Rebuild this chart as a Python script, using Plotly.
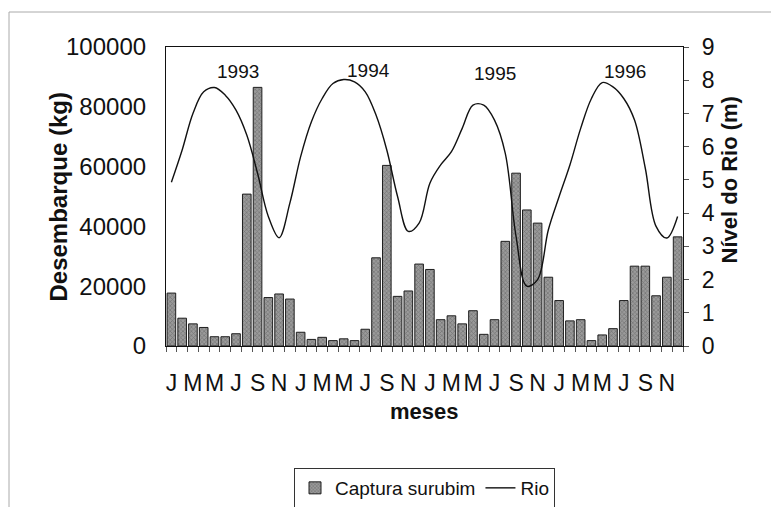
import plotly.graph_objects as go

months = ["J", "F", "M", "A", "M", "J", "J", "A", "S", "O", "N", "D"] * 4
years = ["1993", "1994", "1995", "1996"]

captura = [
    17700, 9300, 7400, 6200, 3100, 3100, 4100, 50800, 86500, 16200, 17400, 15700,
    4600, 2200, 2900, 1800, 2400, 1800, 5600, 29500, 60400, 16600, 18400, 27400,
    25600, 8800, 10100, 7400, 11800, 3900, 8800, 35000, 57800, 45500, 41100, 23000,
    15200, 8400, 8800, 1800, 3700, 5800, 15200, 26700, 26700, 16800, 23000, 36500,
]

rio = [
    4.93, 5.9, 7.0, 7.65, 7.78, 7.55, 7.1, 6.35, 5.2, 3.9, 3.26, 4.3,
    5.7, 6.75, 7.45, 7.9, 8.02, 7.95, 7.65, 6.95, 5.9, 4.5, 3.45, 3.7,
    4.9, 5.45, 5.85, 6.55, 7.25, 7.25, 6.8, 5.8, 3.3, 1.8, 2.0, 3.5,
    4.5, 5.45, 6.55, 7.45, 7.93, 7.8, 7.45, 6.8, 5.35, 3.6, 3.25, 3.9,
]

x = list(range(len(captura)))
label_idx = x[::2]
label_txt = [months[i] for i in label_idx]
boundaries = [i - 0.5 for i in range(len(captura) + 1)]

FONT = "Liberation Sans, Arial, sans-serif"

# plot-area geometry in pixels
L, R, T, B = 166, 683, 47, 346
W, H = R - L, B - T


def px(xp):
    return (xp - L) / W


def py(yp):
    return (B - yp) / H


fig = go.Figure()
fig.add_trace(go.Bar(
    x=x, y=captura, name="Captura surubim", xaxis="x", yaxis="y",
    marker=dict(
        color="#8c8c8c",
        line=dict(color="#1e1e1e", width=1),
        pattern=dict(shape="x", fgcolor="#4e4e4e", bgcolor="#9a9a9a", size=3, solidity=0.4),
    ),
))
fig.add_trace(go.Scatter(
    x=x, y=rio, name="Rio", xaxis="x2", yaxis="y2", mode="lines",
    line=dict(color="#111111", width=1.4, shape="spline", smoothing=1.0),
))

year_pos = [(6.2, 91900), (18.3, 92000), (30.0, 91300), (42.1, 91800)]
annotations = []
for yr, (ax, ay) in zip(years, year_pos):
    annotations.append(dict(x=ax, y=ay, xref="x", yref="y", text=yr, showarrow=False,
                            font=dict(family=FONT, size=19, color="#111")))

annotations += [
    dict(x=px(42), y=py(197), xref="paper", yref="paper", text="<b>Desembarque (kg)</b>",
         textangle=-90, showarrow=False, font=dict(family=FONT, size=24, color="#111")),
    dict(x=px(743), y=py(180), xref="paper", yref="paper", text="<b>Nível do Rio (m)</b>",
         textangle=-90, showarrow=False, font=dict(family=FONT, size=22, color="#111")),
    dict(x=0.5, y=py(426), xref="paper", yref="paper", text="<b>meses</b>",
         showarrow=False, font=dict(family=FONT, size=22, color="#111")),
]

fig.update_layout(
    width=771, height=507,
    margin=dict(l=L, r=771 - R, t=T, b=507 - B, autoexpand=False),
    paper_bgcolor="white", plot_bgcolor="white",
    bargap=0.2,
    showlegend=True,
    legend=dict(
        orientation="h", x=0.5, xanchor="center", y=py(468), yanchor="top",
        bordercolor="#333", borderwidth=1, bgcolor="white",
        font=dict(family=FONT, size=19, color="#111"),
    ),
    font=dict(family=FONT, color="#111"),
    annotations=annotations,
    xaxis=dict(
        range=[-0.5, 47.5], tickmode="array", tickvals=label_idx, ticktext=label_txt,
        ticks="", showgrid=False, zeroline=False,
        showline=True, linecolor="#111", linewidth=1.2, mirror=True,
        tickfont=dict(family=FONT, size=23, color="#111"),
        ticklabelstandoff=16,
    ),
    xaxis2=dict(
        range=[-0.5, 47.5], overlaying="x", anchor="y", side="bottom",
        tickmode="array", tickvals=boundaries, showticklabels=False,
        ticks="outside", ticklen=5, tickcolor="#555", showgrid=False, zeroline=False,
        showline=False,
    ),
    yaxis=dict(
        range=[0, 100000], tickmode="array", tickvals=[0, 20000, 40000, 60000, 80000, 100000],
        ticktext=["0", "20000", "40000", "60000", "80000", "100000"],
        ticks="", showgrid=False, zeroline=False,
        showline=True, linecolor="#111", linewidth=1.2,
        tickfont=dict(family=FONT, size=24, color="#111"),
        ticklabelstandoff=14,
    ),
    yaxis2=dict(
        range=[0, 9], overlaying="y", side="right", anchor="x", dtick=1,
        ticks="outside", ticklen=5, tickcolor="#555", showgrid=False, zeroline=False,
        showline=True, linecolor="#111", linewidth=1.2,
        tickfont=dict(family=FONT, size=23, color="#111"),
        ticklabelstandoff=8,
    ),
    shapes=[
        dict(type="line", xref="paper", yref="paper", x0=px(9), x1=px(771),
             y0=py(12), y1=py(12), line=dict(color="#aaaaaa", width=1)),
        dict(type="line", xref="paper", yref="paper", x0=px(9), x1=px(9),
             y0=py(12), y1=py(507), line=dict(color="#aaaaaa", width=1)),
    ],
)

fig.write_html(
    "out.html",
    config={"displayModeBar": False},
    post_script="document.body.style.margin='0';document.body.style.overflow='hidden';",
)
